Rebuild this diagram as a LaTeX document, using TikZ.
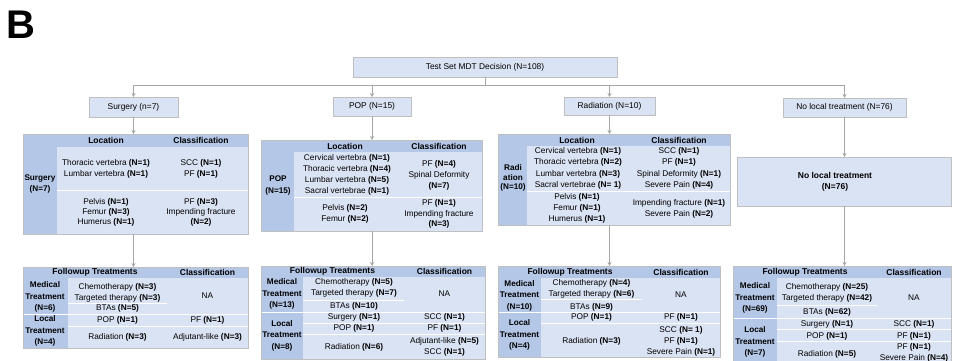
\documentclass[tikz,border=0pt]{standalone}
\usepackage{fontspec}
\setmainfont{Liberation Sans}
\usetikzlibrary{arrows.meta}

\definecolor{headfill}{HTML}{B4C7E7}
\definecolor{bodyfill}{HTML}{DAE3F3}
\definecolor{framecol}{HTML}{BFBFBF}
\definecolor{linkcol}{HTML}{A6A6A6}

\newcommand{\Nc}[1]{\textbf{(N=#1)}}

\tikzset{
  catbox/.style={draw=framecol, fill=bodyfill, line width=0.6pt, inner sep=0pt, outer sep=0pt, font=\fontsize{8.4}{10}\selectfont},
  tabframe/.style={draw=framecol, line width=0.6pt, inner sep=0pt, outer sep=0pt},
  txt/.style={align=center, inner sep=0pt, font=\fontsize{8.3}{11}\selectfont},
  hdr/.style={align=center, inner sep=0pt, font=\fontsize{8.5}{11}\selectfont\bfseries},
  side/.style={align=center, inner sep=0pt, font=\fontsize{8.2}{11.5}\selectfont\bfseries},
  rowsep/.style={draw=white, line width=0.8pt},
  link/.style={draw=linkcol, line width=0.8pt},
  arr/.style={link, -{Stealth[length=4pt,width=4pt]}}
}

\begin{document}
\begin{tikzpicture}[x=1pt,y=-1pt]
\useasboundingbox (0,0) rectangle (953,360);
\clip (0,0) rectangle (953,360);

% panel letter
\node[anchor=base west, inner sep=0pt, font=\fontsize{40}{40}\selectfont\bfseries] (panel) at (6,38) {B};

% draw decision and branch boxes
\node[catbox, minimum width=264pt, minimum height=20pt] (mdt) at (485,67) {Test Set MDT Decision (N=108)};
\node[catbox, minimum width=89pt, minimum height=20pt] (surg) at (133.5,107) {Surgery (n=7)};
\node[catbox, minimum width=78pt, minimum height=19pt] (pop) at (372,106.5) {POP (N=15)};
\node[catbox, minimum width=91pt, minimum height=18pt] (rad) at (609.5,106) {Radiation (N=10)};
\node[catbox, minimum width=123pt, minimum height=19pt] (none) at (844.5,107.5) {No local treatment (N=76)};

% draw location tables
\fill[bodyfill] (23,134) rectangle (248,234);
\fill[headfill] (23,134) rectangle (248,147);
\fill[headfill] (23,134) rectangle (57,234);
\draw[rowsep] (57,190) -- (248,190);
\node[tabframe, minimum width=225pt, minimum height=100pt] (loc1) at (135.5,184) {};

\fill[bodyfill] (261,140) rectangle (482,231);
\fill[headfill] (261,140) rectangle (482,152);
\fill[headfill] (261,140) rectangle (294,231);
\draw[rowsep] (294,197) -- (482,197);
\node[tabframe, minimum width=221pt, minimum height=91pt] (loc2) at (371.5,185.5) {};

\fill[bodyfill] (498,134) rectangle (730,225);
\fill[headfill] (498,134) rectangle (730,146);
\fill[headfill] (498,134) rectangle (527,225);
\draw[rowsep] (527,191) -- (730,191);
\node[tabframe, minimum width=232pt, minimum height=91pt] (loc3) at (614,179.5) {};

\node[tabframe, fill=bodyfill, minimum width=214pt, minimum height=49pt] (loc4) at (844,181.5) {};

% location table texts
\node[hdr] (h1a) at (106,140.5) {Location};
\node[hdr] (h1b) at (201,140.5) {Classification};
\node[side] (s1) at (40,184) {Surgery\\(N=7)};
\node[txt] (l1a) at (106,168.5) {Thoracic vertebra \Nc{1}\\Lumbar vertebra \Nc{1}};
\node[txt] (c1a) at (201,168.5) {SCC \Nc{1}\\PF \Nc{1}};
\node[txt, font=\fontsize{8.3}{10}\selectfont] (l1b) at (106,212) {Pelvis \Nc{1}\\Femur \Nc{3}\\Humerus \Nc{1}};
\node[txt, font=\fontsize{8.3}{10}\selectfont] (c1b) at (201,212) {PF \Nc{3}\\Impending fracture\\\Nc{2}};

\node[hdr] (h2a) at (345,146) {Location};
\node[hdr] (h2b) at (439,146) {Classification};
\node[side] (s2) at (278,185.5) {POP\\(N=15)};
\node[txt] (l2a) at (347,174.5) {Cervical vertebra \Nc{1}\\Thoracic vertebra \Nc{4}\\Lumbar vertebra \Nc{5}\\Sacral vertebrae \Nc{1}};
\node[txt] (c2a) at (439,175) {PF \Nc{4}\\Spinal Deformity\\\Nc{7}};
\node[txt] (l2b) at (345,214) {Pelvis \Nc{2}\\Femur \Nc{2}};
\node[txt, font=\fontsize{8.3}{10.5}\selectfont] (c2b) at (439,214) {PF \Nc{1}\\Impending fracture\\\Nc{3}};

\node[hdr] (h3a) at (577,140) {Location};
\node[hdr] (h3b) at (679,140) {Classification};
\node[side, font=\fontsize{8.2}{9.5}\selectfont\bfseries] (s3) at (513,178) {Radi\\ation\\(N=10)};
\node[txt, font=\fontsize{8.3}{11.5}\selectfont] (l3a) at (578,168.5) {Cervical vertebra \Nc{1}\\Thoracic vertebra \Nc{2}\\Lumbar vertebra \Nc{3}\\Sacral vertebrae \Nc{ 1}};
\node[txt, font=\fontsize{8.3}{11.5}\selectfont] (c3a) at (679,168.5) {SCC \Nc{1}\\PF \Nc{1}\\Spinal Deformity \Nc{1}\\Severe Pain \Nc{4}};
\node[txt] (l3b) at (577,208) {Pelvis \Nc{1}\\Femur \Nc{1}\\Humerus \Nc{1}};
\node[txt] (c3b) at (679,208.5) {Impending fracture \Nc{1}\\Severe Pain \Nc{2}};

\node[align=center, inner sep=0pt, font=\fontsize{8.5}{11}\selectfont\bfseries] (t4) at (835,182) {No local treatment\\(N=76)};

% draw followup tables
\fill[bodyfill] (23,267) rectangle (248,348);
\fill[headfill] (23,267) rectangle (248,278);
\fill[headfill] (23,267) rectangle (68,348);
\draw[rowsep] (68,303) -- (167,303);
\draw[rowsep] (23,314) -- (248,314);
\draw[rowsep] (68,326) -- (248,326);
\node[tabframe, minimum width=225pt, minimum height=81pt] (fu1) at (135.5,307.5) {};

\fill[bodyfill] (261,266) rectangle (485,359);
\fill[headfill] (261,266) rectangle (485,277);
\fill[headfill] (261,266) rectangle (303,359);
\draw[rowsep] (303,300) -- (404,300);
\draw[rowsep] (261,312) -- (485,312);
\draw[rowsep] (303,323) -- (485,323);
\draw[rowsep] (303,334) -- (485,334);
\node[tabframe, minimum width=224pt, minimum height=93pt] (fu2) at (373,312.5) {};

\fill[bodyfill] (498,266) rectangle (720,357);
\fill[headfill] (498,266) rectangle (720,278);
\fill[headfill] (498,266) rectangle (541,357);
\draw[rowsep] (541,299) -- (642,299);
\draw[rowsep] (498,312) -- (720,312);
\draw[rowsep] (541,323) -- (720,323);
\node[tabframe, minimum width=222pt, minimum height=91pt] (fu3) at (609,311.5) {};

\fill[bodyfill] (733,266) rectangle (951,368);
\fill[headfill] (733,266) rectangle (951,278);
\fill[headfill] (733,266) rectangle (777,368);
\draw[rowsep] (777,305) -- (877,305);
\draw[rowsep] (733,318) -- (951,318);
\draw[rowsep] (777,329) -- (951,329);
\draw[rowsep] (777,341) -- (951,341);
\node[tabframe, minimum width=218pt, minimum height=102pt] (fu4) at (842,317) {};

% followup table texts
\node[hdr] (hf1a) at (95,272.5) {Followup Treatments};
\node[hdr] (hf1b) at (207.5,272.5) {Classification};
\node[side] (sf1a) at (45,297) {Medical\\Treatment\\(N=6)};
\node[side] (sf1b) at (45,331) {Local\\Treatment\\(N=4)};
\node[txt] (m1a) at (117.5,292.5) {Chemotherapy \Nc{3}\\Targeted therapy \Nc{3}};
\node[txt] (m1b) at (117.5,308.5) {BTAs \Nc{5}};
\node[txt] (na1) at (207.5,296) {NA};
\node[txt] (p1) at (117.5,320) {POP \Nc{1}};
\node[txt] (pc1) at (207.5,320) {PF \Nc{1}};
\node[txt] (r1) at (117.5,337) {Radiation \Nc{3}};
\node[txt] (rc1) at (207.5,337) {Adjutant-like \Nc{3}};

\node[hdr] (hf2a) at (332.5,271.5) {Followup Treatments};
\node[hdr] (hf2b) at (444.5,271.5) {Classification};
\node[side] (sf2a) at (282,294) {Medical\\Treatment\\(N=13)};
\node[side] (sf2b) at (282,335.5) {Local\\Treatment\\(N=8)};
\node[txt] (m2a) at (354,288) {Chemotherapy \Nc{5}\\Targeted therapy \Nc{7}};
\node[txt] (m2b) at (354,306) {BTAs \Nc{10}};
\node[txt] (na2) at (444.5,294) {NA};
\node[txt] (su2) at (354,317.5) {Surgery \Nc{1}};
\node[txt] (suc2) at (444.5,317.5) {SCC \Nc{1}};
\node[txt] (p2) at (354,328.5) {POP \Nc{1}};
\node[txt] (pc2) at (444.5,328.5) {PF \Nc{1}};
\node[txt] (r2) at (354,347) {Radiation \Nc{6}};
\node[txt] (rc2) at (444.5,347) {Adjutant-like \Nc{5}\\SCC \Nc{1}};

\node[hdr] (hf3a) at (570,272) {Followup Treatments};
\node[hdr] (hf3b) at (681,272) {Classification};
\node[side] (sf3a) at (519.5,295.5) {Medical\\Treatment\\(N=10)};
\node[side] (sf3b) at (519.5,335) {Local\\Treatment\\(N=4)};
\node[txt] (m3a) at (591.5,289) {Chemotherapy \Nc{4}\\Targeted therapy \Nc{6}};
\node[txt] (m3b) at (591.5,307) {BTAs \Nc{9}};
\node[txt] (na3) at (681,295) {NA};
\node[txt] (p3) at (591.5,317.5) {POP \Nc{1}};
\node[txt] (pc3) at (681,317.5) {PF \Nc{1}};
\node[txt] (r3) at (591.5,341) {Radiation \Nc{3}};
\node[txt] (rc3) at (681,341) {SCC \Nc{ 1}\\PF \Nc{1}\\Severe Pain \Nc{1}};

\node[hdr] (hf4a) at (805,272) {Followup Treatments};
\node[hdr] (hf4b) at (914,272) {Classification};
\node[side] (sf4a) at (755,298) {Medical\\Treatment\\(N=69)};
\node[side] (sf4b) at (755,342) {Local\\Treatment\\(N=7)};
\node[txt] (m4a) at (827,292.5) {Chemotherapy \Nc{25}\\Targeted therapy \Nc{42}};
\node[txt] (m4b) at (827,312) {BTAs \Nc{62}};
\node[txt] (na4) at (914,298) {NA};
\node[txt] (su4) at (827,324) {Surgery \Nc{1}};
\node[txt] (suc4) at (914,324) {SCC \Nc{1}};
\node[txt] (p4) at (827,336) {POP \Nc{1}};
\node[txt] (pc4) at (914,336) {PF \Nc{1}};
\node[txt] (r4) at (827,354) {Radiation \Nc{5}};
\node[txt] (rc4) at (914,353) {PF \Nc{1}\\Severe Pain \Nc{4}};

% draw connectors
\coordinate (split) at (485,85);
\draw[link] (mdt.south) -- (split);
\draw[link] (split -| surg.north) -- (split -| none.north);
\foreach \c in {surg,pop,rad,none}
  \draw[arr] (split -| \c.north) -- (\c.north);
\foreach \c/\a/\b in {surg/loc1/fu1, pop/loc2/fu2, rad/loc3/fu3, none/loc4/fu4}{
  \draw[arr] (\c.south) -- (\c.south |- \a.north);
  \draw[arr] (\a.south -| \c.south) -- (\b.north -| \c.south);
}
\end{tikzpicture}
\end{document}
